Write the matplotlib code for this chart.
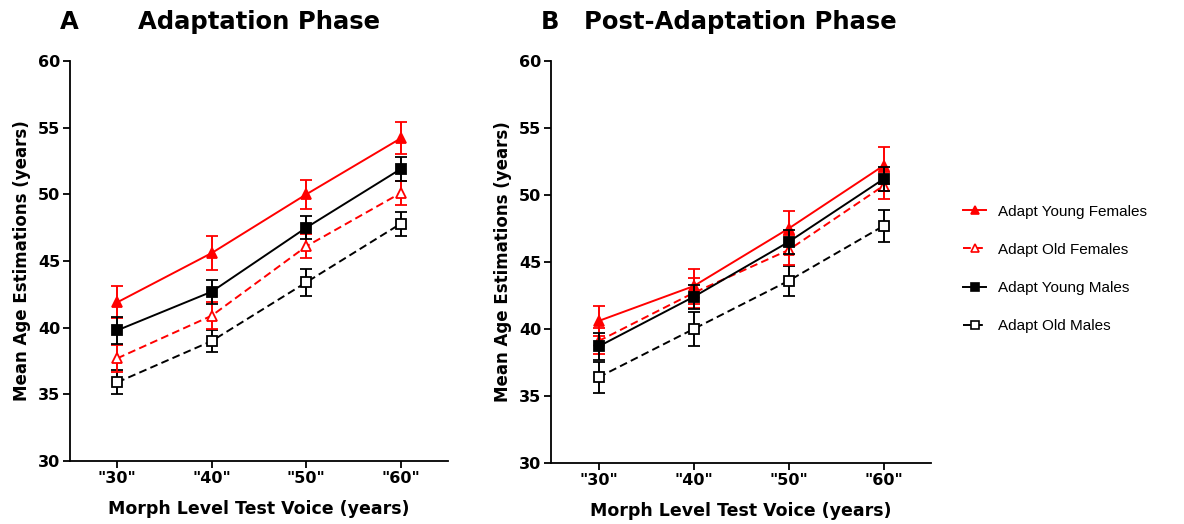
import numpy as np
import matplotlib
matplotlib.use('Agg')
import matplotlib.pyplot as plt
from matplotlib.lines import Line2D

plt.rcParams['font.family'] = ['DejaVu Sans']

morph_levels = ['"30"', '"40"', '"50"', '"60"']
series_names = ['Adapt Young Females', 'Adapt Old Females',
                'Adapt Young Males', 'Adapt Old Males']

# panel A: adaptation phase (mean, sem)
adapt_mean = {
    'Adapt Young Females': [41.9, 45.6, 50.0, 54.2],
    'Adapt Old Females': [37.7, 40.9, 46.1, 50.1],
    'Adapt Young Males': [39.8, 42.7, 47.5, 51.9],
    'Adapt Old Males': [35.9, 39.0, 43.4, 47.8],
}
adapt_err = {
    'Adapt Young Females': [1.2, 1.3, 1.1, 1.2],
    'Adapt Old Females': [1.0, 1.0, 0.9, 0.9],
    'Adapt Young Males': [1.0, 0.9, 0.85, 0.9],
    'Adapt Old Males': [0.9, 0.8, 1.0, 0.9],
}

# panel B: post-adaptation phase (mean, sem)
post_mean = {
    'Adapt Young Females': [40.6, 43.2, 47.5, 52.2],
    'Adapt Old Females': [39.1, 42.7, 45.9, 50.7],
    'Adapt Young Males': [38.7, 42.4, 46.5, 51.2],
    'Adapt Old Males': [36.4, 40.0, 43.6, 47.7],
}
post_err = {
    'Adapt Young Females': [1.1, 1.3, 1.3, 1.4],
    'Adapt Old Females': [1.0, 1.1, 1.1, 1.0],
    'Adapt Young Males': [1.0, 0.9, 0.9, 0.9],
    'Adapt Old Males': [1.15, 1.25, 1.1, 1.2],
}

styles = {
    'Adapt Young Females': dict(color='#ff0000', marker='^', ls='-', mfc='#ff0000'),
    'Adapt Old Females': dict(color='#ff0000', marker='^', ls='--', mfc='white'),
    'Adapt Young Males': dict(color='black', marker='s', ls='-', mfc='black'),
    'Adapt Old Males': dict(color='black', marker='s', ls='--', mfc='white'),
}
zorders = {'Adapt Young Females': 3, 'Adapt Old Females': 2,
           'Adapt Young Males': 4, 'Adapt Old Males': 1}


def dash_for(st):
    return (4, 2.2) if st['ls'] == '--' else (None, None)


def draw_panel(ax, means, errs):
    x = np.arange(1, len(morph_levels) + 1)
    for name in series_names:
        st = styles[name]
        ms = 7.5 if st['marker'] == '^' else 6.5
        ax.errorbar(x, means[name], yerr=errs[name], color=st['color'],
                    marker=st['marker'], ls=st['ls'], mfc=st['mfc'],
                    mec=st['color'], mew=1.3, ms=ms, lw=1.4,
                    elinewidth=1.4, capsize=4.5, capthick=1.4,
                    dashes=dash_for(st), zorder=zorders[name], label=name)
    ax.set_xlim(0.5, 4.5)
    ax.set_ylim(30, 60)
    ax.set_yticks(np.arange(30, 61, 5))
    ax.set_xticks(x)
    ax.set_xticklabels(morph_levels)
    for sp in ['top', 'right']:
        ax.spines[sp].set_visible(False)
    for sp in ['left', 'bottom']:
        ax.spines[sp].set_linewidth(1.3)
    ax.tick_params(direction='out', length=5, width=1.3, labelsize=11.5, pad=2)
    for lab in ax.get_xticklabels() + ax.get_yticklabels():
        lab.set_fontweight('bold')
    ax.set_ylabel('Mean Age Estimations (years)', fontsize=12,
                  fontweight='bold', labelpad=5)
    ax.set_xlabel('Morph Level Test Voice (years)', fontsize=12.5,
                  fontweight='bold', labelpad=10)


fig = plt.figure(figsize=(11.84, 5.24), dpi=100)
ax_a = fig.add_axes([0.0591, 0.1202, 0.3193, 0.7634])
ax_b = fig.add_axes([0.4654, 0.1164, 0.3210, 0.7670])

draw_panel(ax_a, adapt_mean, adapt_err)
draw_panel(ax_b, post_mean, post_err)

# panel titles and letters
title_y = 1 - 29 / 524
fig.text(259 / 1184, title_y, 'Adaptation Phase', fontsize=17.5,
         fontweight='bold', ha='center', va='baseline')
fig.text(740 / 1184, title_y, 'Post-Adaptation Phase', fontsize=17.5,
         fontweight='bold', ha='center', va='baseline')
fig.text(69 / 1184, title_y, 'A', fontsize=17.5, fontweight='bold',
         ha='center', va='baseline')
fig.text(550 / 1184, title_y, 'B', fontsize=17.5, fontweight='bold',
         ha='center', va='baseline')

# legend: line + marker only, no error bars
handles = []
for name in series_names:
    st = styles[name]
    handles.append(Line2D([], [], color=st['color'], marker=st['marker'],
                          ls=st['ls'], mfc=st['mfc'], mec=st['color'],
                          mew=1.2, ms=6 if st['marker'] == '^' else 5.5,
                          lw=1.4, dashes=dash_for(st)))

fig.legend(handles, series_names, loc='center left',
           bbox_to_anchor=(0.802, 0.487), frameon=False,
           prop={'family': 'Liberation Sans', 'size': 11},
           handlelength=1.5, handletextpad=0.75, labelspacing=1.58)

fig.savefig('out.png', dpi=100)
